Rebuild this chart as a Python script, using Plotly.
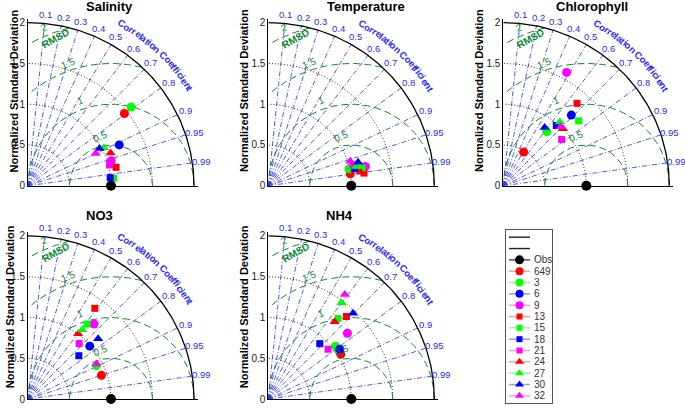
import numpy as np
import plotly.graph_objects as go

W, H = 685, 410
OFF = 0  # page body margin is removed by post_script below

# ---------------- data ----------------
panel_titles = ["Salinity", "Temperature", "Chlorophyll", "NO3", "NH4"]
model_names = ["649", "3", "6", "9", "13", "15", "18", "21", "24", "27", "30", "32"]
model_colors = ["#ff0000", "#00ff00", "#0000ff", "#ff00ff"] * 3
model_symbols = ["circle"] * 4 + ["square"] * 4 + ["triangle-up"] * 4

# normalized standard deviation and correlation coefficient for each model
std_salinity = [1.461, 1.573, 1.208, 1.048, 1.085, 1.035, 0.995, 1.015, 1.073, 1.026, 0.975, 0.905]
corr_salinity = [0.795, 0.789, 0.910, 0.956, 0.978, 0.996, 0.995, 0.968, 0.927, 0.890, 0.884, 0.900]
std_temperature = [0.999, 0.994, 1.118, 1.193, 1.164, 1.150, 1.061, 1.052, 1.126, 1.086, 1.119, 1.032]
corr_temperature = [0.989, 0.978, 0.984, 0.980, 0.991, 0.982, 0.980, 0.970, 0.989, 0.976, 0.966, 0.957]
std_chlorophyll = [0.481, 0.845, 1.193, 1.585, 1.345, 1.207, 0.977, 0.904, 1.003, 1.039, 0.871, 1.002]
corr_chlorophyll = [0.509, 0.619, 0.687, 0.481, 0.660, 0.752, 0.654, 0.778, 0.717, 0.657, 0.572, 0.692]
std_no3 = [0.931, 0.920, 0.987, 1.217, 1.373, 1.163, 0.811, 0.918, 1.002, 1.071, 1.123, 0.929]
corr_no3 = [0.950, 0.895, 0.754, 0.654, 0.586, 0.612, 0.755, 0.671, 0.603, 0.609, 0.752, 0.887]
std_nh4 = [1.031, 1.037, 1.056, 1.249, 1.382, 1.297, 0.920, 0.945, 1.240, 1.473, 1.466, 1.578]
corr_nh4 = [0.847, 0.780, 0.815, 0.763, 0.681, 0.648, 0.674, 0.762, 0.645, 0.598, 0.696, 0.584]

obs_std = 1.0
obs_corr = 1.0

corr_ticks = [0.1, 0.2, 0.3, 0.4, 0.5, 0.6, 0.7, 0.8, 0.9, 0.95, 0.99]
corr_tick_labels = ["0.1", "0.2", "0.3", "0.4", "0.5", "0.6", "0.7", "0.8", "0.9", "0.95", "0.99"]
std_arcs = [0.5, 1.0, 1.5]
rmsd_levels = [0.5, 1.0, 1.5, 2.0]
rmsd_labels = ["0.5", "1", "1.5", "2"]
std_max = 2.0
std_ticks = [0, 0.5, 1, 1.5, 2]
std_tick_labels = ["0", "0.5", "1", "1.5", "2"]

panel_std = [std_salinity, std_temperature, std_chlorophyll, std_no3, std_nh4]
panel_corr = [corr_salinity, corr_temperature, corr_chlorophyll, corr_no3, corr_nh4]

# ---------------- layout geometry (reference pixels) ----------------
origins = [(28, 188), (268.3, 188), (503.3, 188), (28, 405), (268.3, 405)]
title_pos = [(109.5, 6), (365.8, 5.5), (591.7, 5.5), (99.8, 218), (339.7, 218)]
ylab_pos = [(13.5, 91.5), (244, 91.5), (479, 91.5), (10, 311.5), (244, 311.5)]
S = 83.0
RMAX = 2.05
FONT = "Liberation Sans, Arial, sans-serif"
BLUE = "#2a2aff"
GREEN = "#0a8a2a"
rmsd_label_xy = [(0.87, 0.60), (0.63, 1.05), (0.485, 1.50), (0.19, 1.94)]

bold_w = {"C": 722, "o": 611, "r": 389, "e": 556, "l": 278, "a": 556, "t": 333,
          "i": 278, "n": 611, " ": 278, "f": 333, "c": 556}
curved = "Correlation Coefficient"


def fx(px):
    return (px - OFF) / W


def fy(py):
    return 1 - (py - OFF) / H


def polar_xy(r, c):
    r = np.asarray(r, float)
    c = np.asarray(c, float)
    return r * c, r * np.sqrt(np.clip(1 - c ** 2, 0, None))


fig = go.Figure()
annotations = []
layout_axes = {}

for p in range(5):
    k = p + 1
    xa = "x" if k == 1 else f"x{k}"
    ya = "y" if k == 1 else f"y{k}"
    ox, oy = origins[p]

    def paper(x, y, ox=ox, oy=oy):
        return fx(ox + x * S), fy(oy - y * S)

    layout_axes["xaxis" if k == 1 else f"xaxis{k}"] = dict(
        domain=[fx(ox), fx(ox + RMAX * S)], range=[0, RMAX], anchor=ya,
        showline=True, linecolor="black", linewidth=1, showgrid=False,
        zeroline=False, showticklabels=False, ticks="", fixedrange=True)
    layout_axes["yaxis" if k == 1 else f"yaxis{k}"] = dict(
        domain=[fy(oy), fy(oy - RMAX * S)], range=[0, RMAX], anchor=xa,
        showline=True, linecolor="black", linewidth=1, showgrid=False,
        zeroline=False, tickvals=std_ticks, ticktext=std_tick_labels, ticks="",
        tickfont=dict(family=FONT, size=10, color="#222"), fixedrange=True)

    # correlation rays
    for c in corr_ticks:
        ex, ey = polar_xy([0, std_max], [c, c])
        fig.add_trace(go.Scatter(x=ex, y=ey, xaxis=xa, yaxis=ya, mode="lines",
                                 line=dict(color=BLUE, width=0.8, dash="5px,2px,1px,2px"),
                                 hoverinfo="skip", showlegend=False))
    # std dotted arcs
    t = np.linspace(0, np.pi / 2, 120)
    for r in std_arcs:
        fig.add_trace(go.Scatter(x=r * np.cos(t), y=r * np.sin(t), xaxis=xa, yaxis=ya,
                                 mode="lines", line=dict(color="#333", width=1, dash="1px,2px"),
                                 hoverinfo="skip", showlegend=False))
    # RMSD circles centered at observation
    tt = np.linspace(0, np.pi, 600)
    for rho in rmsd_levels:
        cx = obs_std + rho * np.cos(tt)
        cy = rho * np.sin(tt)
        m = (cx >= 0) & (cx ** 2 + cy ** 2 <= std_max ** 2 + 1e-9)
        fig.add_trace(go.Scatter(x=cx[m], y=cy[m], xaxis=xa, yaxis=ya, mode="lines",
                                 line=dict(color=GREEN, width=1, dash="7px,4px"),
                                 hoverinfo="skip", showlegend=False))
    # outer arc
    fig.add_trace(go.Scatter(x=std_max * np.cos(t), y=std_max * np.sin(t), xaxis=xa, yaxis=ya,
                             mode="lines", line=dict(color="black", width=1.3),
                             hoverinfo="skip", showlegend=False))
    # models
    mx, my = polar_xy(panel_std[p], panel_corr[p])
    for j, nm in enumerate(model_names):
        size = 7 if model_symbols[j] == "square" else 9
        fig.add_trace(go.Scatter(x=[mx[j]], y=[my[j]], xaxis=xa, yaxis=ya, mode="markers",
                                 marker=dict(color=model_colors[j], symbol=model_symbols[j],
                                             size=size, line=dict(width=0)),
                                 cliponaxis=False, name=nm, showlegend=False))
    # observation
    obx, oby = polar_xy([obs_std], [obs_corr])
    fig.add_trace(go.Scatter(x=obx, y=oby, xaxis=xa, yaxis=ya, mode="markers",
                             marker=dict(color="black", size=10, line=dict(width=0)),
                             cliponaxis=False, name="Obs", showlegend=False))

    # correlation labels
    for c, lab in zip(corr_ticks, corr_tick_labels):
        lx, ly = polar_xy([2.11], [c])
        px_, py_ = paper(lx[0], ly[0])
        annotations.append(dict(x=px_, y=py_, xref="paper", yref="paper", text=lab,
                                showarrow=False, xanchor="center", yanchor="middle",
                                font=dict(family=FONT, size=9.5, color=BLUE)))
    # curved "Correlation Coefficient"
    widths = [bold_w[ch] for ch in curved]
    centers = np.cumsum(widths) - np.array(widths) / 2
    u = (centers - centers[0]) / (centers[-1] - centers[0])
    phis = 60.3 - u * 29.1
    for ch, ph in zip(curved, phis):
        if ch == " ":
            continue
        px_, py_ = paper(2.285 * np.cos(np.radians(ph)), 2.285 * np.sin(np.radians(ph)))
        annotations.append(dict(x=px_, y=py_, xref="paper", yref="paper", text=ch,
                                showarrow=False, xanchor="center", yanchor="middle",
                                textangle=90 - ph,
                                font=dict(family=FONT, size=9.5, color=BLUE, weight="bold")))
    # RMSD label & level labels
    px_, py_ = paper(0.33, 1.80)
    annotations.append(dict(x=px_, y=py_, xref="paper", yref="paper", text="RMSD",
                            showarrow=False, textangle=-29, xanchor="center", yanchor="middle",
                            font=dict(family=FONT, size=10, color=GREEN, weight="bold")))
    for (lx, ly), lab in zip(rmsd_label_xy, rmsd_labels):
        px_, py_ = paper(lx, ly)
        annotations.append(dict(x=px_, y=py_, xref="paper", yref="paper", text=lab,
                                showarrow=False, textangle=-22, xanchor="center",
                                yanchor="middle",
                                font=dict(family=FONT, size=10, color=GREEN)))
    # title and y label
    tx, ty = title_pos[p]
    annotations.append(dict(x=fx(tx), y=fy(ty), xref="paper", yref="paper",
                            text=panel_titles[p], showarrow=False, xanchor="center",
                            yanchor="middle",
                            font=dict(family=FONT, size=13, color="black", weight="bold")))
    lx, ly = ylab_pos[p]
    annotations.append(dict(x=fx(lx), y=fy(ly), xref="paper", yref="paper",
                            text="Normalized Standard Deviation", showarrow=False,
                            textangle=-90, xanchor="center", yanchor="middle",
                            font=dict(family=FONT, size=11, color="black", weight="bold")))

# ---------------- custom legend ----------------
LX0, LX1, LY0, LY1 = 506, 552, 233, 409
layout_axes["xaxis6"] = dict(domain=[fx(LX0), fx(LX1)], range=[0, LX1 - LX0], anchor="y6",
                             showline=True, mirror=True, linecolor="#555", linewidth=1,
                             showgrid=False, zeroline=False, showticklabels=False,
                             ticks="", fixedrange=True)
layout_axes["yaxis6"] = dict(domain=[fy(LY1), fy(LY0)], range=[LY1 - LY0, 0],
                             anchor="x6", showline=True, mirror=True, linecolor="#555",
                             linewidth=1, showgrid=False, zeroline=False,
                             showticklabels=False, ticks="", fixedrange=True)
row_y = [7.3 + 11.53 * k for k in range(15)]
pale = {"#ff0000": "#ff9a9a", "#00ff00": "#8cff8c", "#0000ff": "#9a9aff", "#ff00ff": "#ff9aff"}
for k in range(2):
    fig.add_trace(go.Scatter(x=[3, 24], y=[row_y[k]] * 2, xaxis="x6", yaxis="y6",
                             mode="lines", line=dict(color="#222", width=1.4),
                             hoverinfo="skip", showlegend=False))
leg_names = ["Obs"] + model_names
leg_colors = ["black"] + model_colors
leg_symbols = ["circle"] + model_symbols
for k, (nm, col, sym) in enumerate(zip(leg_names, leg_colors, leg_symbols)):
    yy = row_y[k + 2]
    fig.add_trace(go.Scatter(x=[3, 24], y=[yy, yy], xaxis="x6", yaxis="y6", mode="lines",
                             line=dict(color=pale.get(col, "#555"), width=1.5),
                             hoverinfo="skip", showlegend=False))
    size = 6 if sym == "square" else (9 if nm == "Obs" else 8)
    fig.add_trace(go.Scatter(x=[13.5], y=[yy], xaxis="x6", yaxis="y6", mode="markers",
                             marker=dict(color=col, symbol=sym, size=size, line=dict(width=0)),
                             cliponaxis=False, hoverinfo="skip", showlegend=False))
    annotations.append(dict(x=26, y=yy, xref="x6", yref="y6", text=nm, showarrow=False,
                            xanchor="left", yanchor="middle",
                            font=dict(family=FONT, size=10, color="#333")))

fig.update_layout(width=W, height=H, margin=dict(l=0, r=0, t=0, b=0),
                  paper_bgcolor="white", plot_bgcolor="white", showlegend=False,
                  annotations=annotations, **layout_axes)
fig.write_html("out.html", config={"displayModeBar": False},
               post_script="document.body.style.margin='0px';"
                           "document.body.style.overflow='hidden';")
